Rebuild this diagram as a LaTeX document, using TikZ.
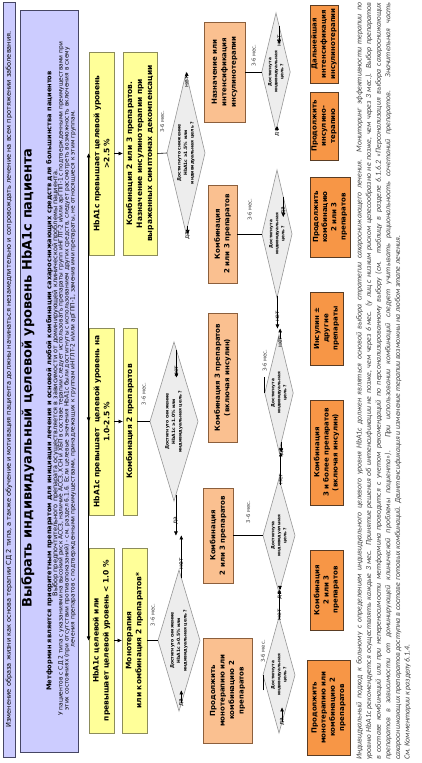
\documentclass[tikz,border=0pt]{standalone}
\usepackage{fontspec}
\setmainfont{DejaVu Sans}
\newfontfamily\notefont{Carlito}
\usetikzlibrary{arrows.meta,positioning,calc,shapes.geometric}

\definecolor{lav}{RGB}{204,204,255}
\definecolor{lavline}{RGB}{70,70,100}
\definecolor{yfill}{RGB}{255,255,153}
\definecolor{yline}{RGB}{140,140,90}
\definecolor{lfill}{RGB}{250,192,144}
\definecolor{lline}{RGB}{140,95,60}
\definecolor{dfill}{RGB}{247,150,70}
\definecolor{dline}{RGB}{90,60,35}
\definecolor{gfill}{RGB}{237,237,237}
\definecolor{gline}{RGB}{150,150,150}
\newcommand{\setfs}[2]{\fontsize{#1}{#2}\selectfont}

\begin{document}
\begin{tikzpicture}[x=1pt,y=1pt,rotate=90,transform shape,
  band/.style={draw=lavline,fill=lav,line width=0.7pt,inner sep=0pt},
  ybox/.style={draw=yline,fill=yfill,line width=0.8pt,inner sep=0pt,align=center,font=\setfs{7.5}{10}\bfseries},
  lbox/.style={draw=lline,fill=lfill,line width=0.8pt,inner sep=0pt,align=center,font=\setfs{7}{9.5}\bfseries},
  dbox/.style={draw=dline,fill=dfill,line width=0.8pt,inner sep=0pt,align=center,font=\setfs{7}{9.2}\bfseries},
  check/.style={diamond,aspect=3.3,draw=gline,fill=gfill,line width=0.6pt,inner sep=0pt,outer sep=0pt,align=center,font=\setfs{4.5}{6.5}\bfseries},
  check2/.style={check,font=\setfs{4.3}{6}\bfseries},
  arr/.style={-{Triangle[length=4pt,width=3.5pt]},line width=0.6pt},
  link/.style={line width=0.6pt},
  yn/.style={font=\setfs{6}{7},inner sep=1.5pt},
  mes/.style={font=\setfs{5.3}{6},text=black!75,inner sep=0pt}]
\useasboundingbox (0,-421) rectangle (763,0);

% general part
\node[band,minimum width=755,minimum height=12,font=\setfs{6.6}{7}] (life) at (383.5,-9)
  {Изменение образа жизни как основа терапии СД 2 типа, а также обучение и мотивация пациента должны начинаться незамедлительно и сопровождать лечение на всем протяжении заболевания.};
\node[band,minimum width=742,minimum height=58] (goal) at (382,-49) {};
\node[font=\setfs{13}{15}\bfseries] (title) at (385,-28) {Выбрать индивидуальный целевой уровень HbA1c пациента};
\node[font=\setfs{6.6}{7}\bfseries] (metf) at (382,-49.5)
  {Метформин является приоритетным препаратом для инициации лечения и основой любой комбинации сахароснижающих средств для большинства пациентов};
\node[font=\setfs{6.5}{7}] (choice) at (380,-55.5)
  {Выбор предпочтительного препарата осуществляется в зависимости от доминирующей клинической проблемы пациента.};
\node[align=center,font=\setfs{5.9}{5.9}] (cvd) at (384,-67)
  {У пациентов с СД 2 типа с указаниями на высокий риск АССЗ, наличие АССЗ, ХСН и ХБП в составе терапии следует использовать препараты групп иНГЛТ-2 и/или арГПП-1 с подтвержденными преимуществами при\\
   этих состояниях (при отсутствии противопоказаний) - см. раздел 6.1.6. Если целевые значения HbA1c были достигнуты с использованием других средств, следует рассмотреть возможность включения в схему\\
   лечения препаратов с подтвержденными преимуществами, принадлежащих к группам иНГЛТ-2 и/или арГПП-1, заменив ими препараты, не относящиеся к этим группам.};

% starting levels
\node[ybox,minimum width=185,minimum height=25] (y1a) at (122.5,-101.5) {HbA1c целевой или\\превышает целевой уровень < 1.0 \%};
\node[ybox,minimum width=187,minimum height=25] (y1b) at (341.5,-101.5) {HbA1c превышает\ \ целевой уровень на\\1.0-2.5 \%};
\node[ybox,minimum width=203,minimum height=25] (y1c) at (609.5,-101.5) {HbA1c превышает целевой уровень\\>2.5 \%};
\node[ybox,minimum width=185,minimum height=25] (y2a) at (122.5,-134.5) {Монотерапия\\или комбинация 2 препаратов*};
\node[ybox,minimum width=187,minimum height=14] (y2b) at (341.5,-130) {Комбинация 2 препаратов};
\node[ybox,minimum width=203,minimum height=34] (y2c) at (609.5,-140)
  {Комбинация 2 или 3 препаратов.\\Назначение инсулинотерапии при\\выраженных симптомах декомпенсации};
\foreach \c in {a,b,c}{
  \draw[arr] (y1\c.north -| goal.south) -- (y1\c.north);
  \draw[arr] (y1\c.south) -- (y2\c.north);
}

% first check
\node[check,minimum width=141,minimum height=42] (a1) at (122.5,-179) {Достигнуто снижение\\HbA1c ≥0.5\% или\\индивидуальная цель ?};
\node[check,minimum width=159,minimum height=48] (b1) at (341.5,-174) {Достигнуто снижение\\HbA1c ≥1.0\% или\\индивидуальная цель ?};
\node[check,minimum width=160,minimum height=38] (c1) at (610,-186) {Достигнуто снижение\\HbA1c ≥1.5\% или\\индивидуальная цель ?};
\draw[link] (y2a.south) -- node[mes,right=14pt] {3-6 мес.} (a1.north);
\draw[link] (y2b.south) -- node[mes,right=16pt] {3-6 мес.} (b1.north);
\draw[link] (y2c.south) -- node[mes,right=20pt] {3-6 мес.} (c1.north);

\node[lbox,minimum width=105,minimum height=49] (mono) at (72.5,-227.5) {Продолжить\\монотерапию или\\комбинацию 2\\препаратов};
\node[lbox,minimum width=95,minimum height=30] (duo) at (227.5,-218) {Комбинация\\2 или 3 препаратов};
\node[lbox,minimum width=129,minimum height=29] (trio) at (385.5,-222.5) {Комбинация 3 препаратов\\(включая инсулин)};
\node[lbox,minimum width=98,minimum height=29] (duob) at (529,-222.5) {Комбинация\\2 или 3 препаратов};
\node[lbox,minimum width=100,minimum height=41] (insstart) at (691,-224.5) {Назначение или\\интенсификация\\инсулинотерапии};

% branches leave the diamond edge a little inside the corners
\coordinate (a1y) at ($(a1.west)!.11!(a1.south)$);
\coordinate (a1n) at ($(a1.east)!.11!(a1.south)$);
\coordinate (b1y) at ($(b1.west)!.08!(b1.south)$);
\coordinate (b1n) at ($(b1.east)!.10!(b1.south)$);
\coordinate (c1y) at ($(c1.west)!.09!(c1.south)$);
\coordinate (c1n) at ($(c1.east)!.04!(c1.south)$);
\draw[arr] (a1y) -- node[yn,left] {да} (a1y -| mono.north);
\draw[arr] (a1n) -- node[yn,left] {нет} (a1n -| duo.north);
\draw[arr] (b1y) -- node[yn,left] {да} (b1y -| duo.north);
\draw[arr] (b1n) -- node[yn,left] {нет} (b1n -| trio.north);
\draw[arr] (c1y) -- node[yn,left] {да} (c1y -| duob.north);
\draw[arr] (c1n) -- node[yn,left] {нет} (c1n -| insstart.north);

% second check
\node[check2,minimum width=116,minimum height=32] (a2) at (88,-279) {Достигнута\\индивидуальная\\цель ?};
\node[check2,minimum width=114,minimum height=32] (d2) at (227.5,-279) {Достигнута\\индивидуальная\\цель ?};
\node[check2,minimum width=117,minimum height=28] (t2) at (370,-279) {Достигнута\\индивидуальная\\цель ?};
\node[check2,minimum width=128,minimum height=30] (e2) at (529,-277) {Достигнута\\индивидуальная\\цель ?};
\node[check2,minimum width=118,minimum height=28] (i2) at (691,-276) {Достигнута\\индивидуальная\\цель ?};
\draw[link] (a2.north -| mono.south) -- node[mes,right=20pt] {3-6 мес.} (a2.north);
\draw[link] (duo.south) -- node[mes,right=12pt] {3-6 мес.} (d2.north);
\draw[link] (t2.north -| trio.south) -- node[mes,right=13pt] {3-6 мес.} (t2.north);
\draw[link] (duob.south) -- node[mes,right=13pt] {3-6 мес.} (e2.north);
\draw[link] (insstart.south) -- node[mes,right=5pt] {3-6 мес.} (i2.north);

\node[dbox,minimum width=95,minimum height=43] (keepmono) at (55.5,-328.5) {Продолжить\\монотерапию или\\комбинацию 2\\препаратов};
\node[dbox,minimum width=80,minimum height=33] (duofin) at (173,-326.5) {Комбинация\\2 или 3\\препаратов};
\node[dbox,minimum width=105,minimum height=33] (morefin) at (310.5,-326.5) {Комбинация\\3 и более препаратов\\(включая инсулин)};
\node[dbox,minimum width=73,minimum height=33] (insfin) at (434.5,-326.5) {Инсулин ±\\другие\\препараты};
\node[dbox,minimum width=80,minimum height=40] (keepduo) at (546,-330) {Продолжить\\комбинацию\\2 или 3\\препаратов};
\node[dbox,minimum width=68,minimum height=28] (keepins) at (637,-324) {Продолжить\\инсулино-\\терапию};
\node[dbox,minimum width=78,minimum height=28] (furtherins) at (719,-324) {Дальнейшая\\интенсификация\\инсулинотерапии};

\coordinate (a2y) at ($(a2.west)!.19!(a2.south)$);
\coordinate (a2n) at ($(a2.east)!.03!(a2.south)$);
\coordinate (d2y) at ($(d2.west)!.06!(d2.south)$);
\coordinate (d2n) at ($(d2.east)!.11!(d2.south)$);
\coordinate (t2y) at ($(t2.west)!.16!(t2.south)$);
\coordinate (t2n) at ($(t2.east)!.08!(t2.south)$);
\coordinate (e2n) at ($(e2.west)!.03!(e2.south)$);
\coordinate (e2y) at ($(e2.east)!.42!(e2.south)$);
\coordinate (i2y) at ($(i2.west)!.07!(i2.south)$);
\coordinate (i2n) at ($(i2.east)!.22!(i2.south)$);
\draw[arr] (a2y) -- node[yn,left,pos=.4] {да} (a2y -| keepmono.north);
\draw[arr] (a2n) -- node[yn,left,pos=.4] {нет} (a2n -| duofin.north);
\draw[arr] (d2y) -- node[yn,left,pos=.4] {да} (d2y -| duofin.north);
\draw[arr] (d2n) -- node[yn,left,pos=.4] {нет} (d2n -| morefin.north);
\draw[arr] (t2y) -- node[yn,left,pos=.4] {да} (t2y -| morefin.north);
\draw[arr] (t2n) -- node[yn,left,pos=.4] {нет} (t2n -| insfin.north);
\draw[arr] (e2n) -- node[yn,left,pos=.4] {нет} (e2n -| insfin.north);
\draw[arr] (e2y) -- node[yn,left,pos=.4] {да} (e2y -| keepduo.north);
\draw[arr] (i2y) -- node[yn,left,pos=.4] {да} (i2y -| keepins.north);
\draw[arr] (i2n) -- node[yn,left,pos=.4] {нет} (i2n -| furtherins.north);

% note
\node[anchor=north west,inner sep=0pt,text width=757,align=justify,text=black!75,font=\notefont\itshape\setfs{7.8}{9.6}] (memo) at (3,-356)
  {Индивидуальный подход к больному с определением индивидуального целевого уровня HbA1c должен являться основой выбора стратегии сахароснижающего лечения. Мониторинг эффективности терапии по\linebreak
   уровню HbA1c рекомендуется осуществлять каждые 3 мес. Принятие решения об интенсификации не позже, чем через 6 мес. (у лиц с низким риском целесообразно не позже, чем через 3 мес.). Выбор препаратов\linebreak
   в составе комбинаций или при непереносимости метформина проводится с учетом рекомендаций по персонализированному выбору (см. таблицу в разделе 6.1.6.2 «Персонализация выбора сахароснижающих\linebreak
   препаратов в зависимости от доминирующей клинической проблемы пациента»). При использовании комбинаций следует учитывать рациональность сочетаний препаратов. Значительная часть\linebreak
   сахароснижающих препаратов доступна в составе готовых комбинаций. Деинтенсификация и изменение терапии возможны на любом этапе лечения.\\
   * См. Комментарии к разделу 6.1.4.};
\end{tikzpicture}
\end{document}
